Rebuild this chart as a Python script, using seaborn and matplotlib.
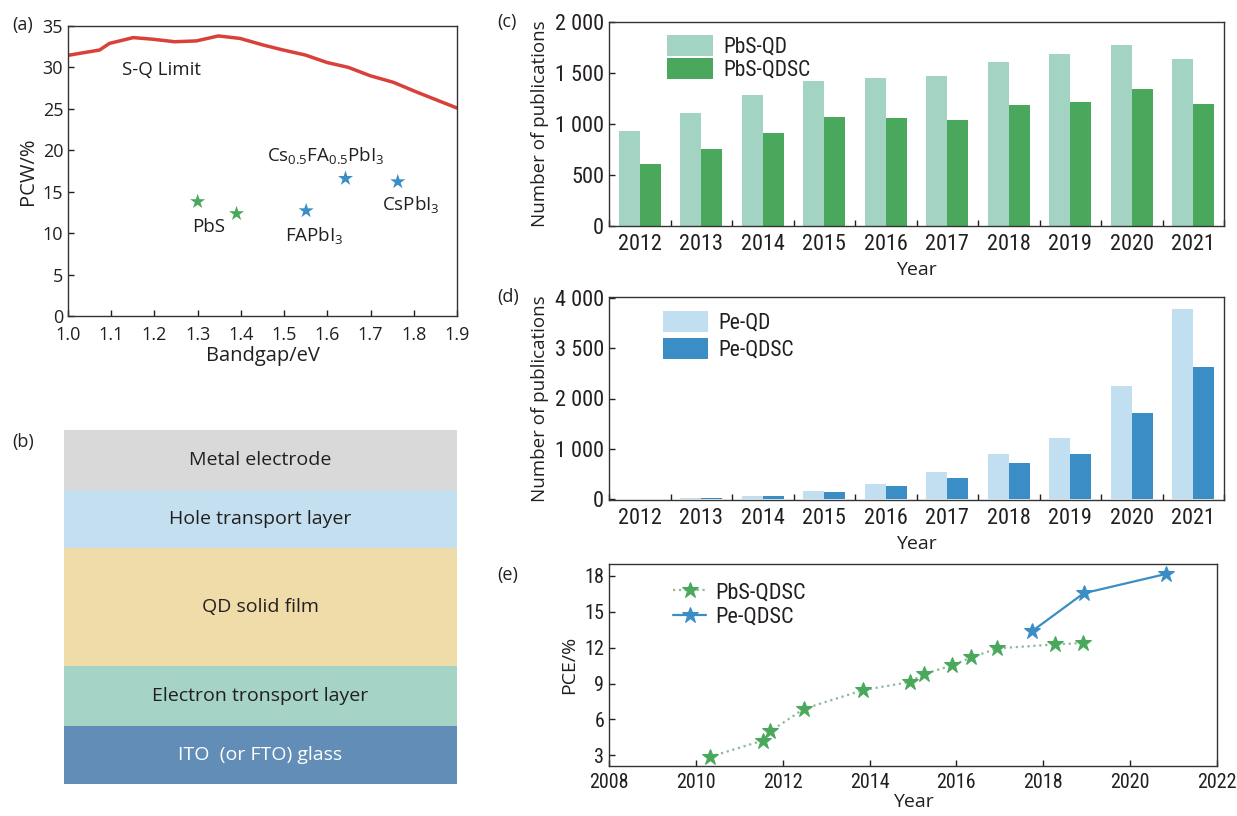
import numpy as np
import pandas as pd
import matplotlib
matplotlib.use('Agg')
import matplotlib.pyplot as plt
import seaborn as sns
from matplotlib import font_manager

# (a) S-Q limit curve and champion cells
sq_gap = [1.00, 1.073, 1.096, 1.151, 1.197, 1.247, 1.297, 1.348, 1.398, 1.452,
          1.498, 1.549, 1.599, 1.649, 1.699, 1.753, 1.808, 1.90]
sq_pce = [31.46, 32.1, 32.9, 33.6, 33.4, 33.1, 33.2, 33.8, 33.5, 32.7,
          32.1, 31.5, 30.6, 30.0, 29.0, 28.2, 27.0, 25.1]
cell_gap = [1.30, 1.39, 1.551, 1.642, 1.763]
cell_pce = [13.8, 12.35, 12.7, 16.6, 16.2]
cell_kind = ['PbS', 'PbS', 'Pe', 'Pe', 'Pe']

# (b) device stack, top to bottom
layer_names = ['Metal electrode', 'Hole transport layer', 'QD solid film',
               'Electron tronsport layer', 'ITO  (or FTO) glass']
layer_thick = [60, 58, 118, 60, 58]
layer_colors = ['#d9d9d9', '#c3dff0', '#f0dca8', '#a5d3c5', '#618db6']

# (c), (d) publications per year
years = ['2012', '2013', '2014', '2015', '2016', '2017', '2018', '2019', '2020', '2021']
pbs_qd = [931, 1105, 1289, 1420, 1449, 1466, 1603, 1689, 1774, 1636]
pbs_qdsc = [607, 757, 908, 1072, 1059, 1036, 1184, 1213, 1348, 1200]
pe_qd = [0, 15, 60, 160, 290, 547, 893, 1220, 2247, 3773]
pe_qdsc = [0, 20, 60, 140, 250, 420, 707, 887, 1720, 2633]
c_ticks = [0, 500, 1000, 1500, 2000]
c_ticklabels = ['0', '500', '1 000', '1 500', '2 000']
d_ticks = [0, 1000, 2000, 3000, 4000]
d_ticklabels = ['0', '1 000', '2 000', '3 500', '4 000']

# (e) record efficiencies
pbs_year = [2010.32, 2011.54, 2011.71, 2012.49, 2013.85, 2014.92, 2015.25,
            2015.90, 2016.34, 2016.94, 2018.26, 2018.92]
pbs_eff = [2.86, 4.23, 5.0, 6.88, 8.45, 9.12, 9.79, 10.51, 11.18, 11.94, 12.27, 12.39]
pe_year = [2017.75, 2018.93, 2020.83]
pe_eff = [13.4, 16.55, 18.17]

GREEN = '#4aa85c'
BLUE = '#3b8dc5'
TXT = '#231f20'

sns.set_theme(style='ticks')
plt.rcParams['font.family'] = ['Open Sans', 'DejaVu Sans']
plt.rcParams['mathtext.fontset'] = 'custom'
plt.rcParams['mathtext.rm'] = 'Open Sans'
plt.rcParams['text.color'] = TXT
plt.rcParams['axes.labelcolor'] = TXT
plt.rcParams['xtick.color'] = TXT
plt.rcParams['ytick.color'] = TXT
plt.rcParams['axes.edgecolor'] = '#333333'


# look for a condensed face for the bar/line panels (Myriad Condensed look)
def find_narrow():
    prefs = ['Noto Sans', 'Open Sans', 'Roboto', 'Liberation Sans Narrow', 'DejaVu Sans']
    found = []
    for f in font_manager.fontManager.ttflist:
        narrow = (f.stretch in ('condensed', 'semi-condensed')
                  or 'Narrow' in f.name or 'Condensed' in f.name
                  or 'Condensed' in f.fname or 'Narrow' in f.fname)
        if not narrow or f.style != 'normal':
            continue
        if f.weight not in (400, 'normal', 'regular', 'book'):
            continue
        if 'Extra' in f.fname or 'Ultra' in f.fname:
            continue
        for i, p in enumerate(prefs):
            if f.name.startswith(p):
                found.append((i, 'Semi' in f.fname, f.fname))
    if found:
        found.sort()
        return found[0][2]
    return None


NARROW_FILE = find_narrow()


def nprop(size):
    if NARROW_FILE:
        return font_manager.FontProperties(fname=NARROW_FILE, size=size)
    return font_manager.FontProperties(family='Open Sans', size=size * 0.85)


W, H = 1237, 816
fig = plt.figure(figsize=(W / 100, H / 100), dpi=100)


def box(l, t, r, b):
    return fig.add_axes([l / W, 1 - b / H, (r - l) / W, (b - t) / H])


def style(ax):
    for s in ax.spines.values():
        s.set_visible(True)
        s.set_linewidth(1.0)
    ax.tick_params(direction='in', length=4, width=1)


# ---------- (a)
ax_a = box(68, 26, 457, 316)
sns.lineplot(x=sq_gap, y=sq_pce, color='#d9403a', lw=2.5, ax=ax_a)
sns.scatterplot(x=cell_gap, y=cell_pce, hue=cell_kind, palette={'PbS': GREEN, 'Pe': BLUE},
                marker='*', s=130, edgecolor='none', legend=False, ax=ax_a)
ax_a.set_xlim(1.0, 1.9)
ax_a.set_ylim(0, 35)
ax_a.set_xticks(np.arange(1.0, 1.91, 0.1))
ax_a.set_yticks(range(0, 36, 5))
ax_a.set_xlabel('Bandgap/eV', fontsize=14.5, labelpad=2)
ax_a.set_ylabel('PCW/%', fontsize=14.5, labelpad=3)
style(ax_a)
ax_a.tick_params(labelsize=13)
ax_a.tick_params(axis='x', pad=7)
ax_a.text(1.124, 29.7, 'S-Q Limit', fontsize=13.5, va='center')
ax_a.text(1.325, 10.8, 'PbS', fontsize=13.5, va='center', ha='center')
ax_a.text(1.502, 9.6, r'FAPbI$_{3}$', fontsize=13.5, va='center')
ax_a.text(1.46, 19.3, r'Cs$_{0.5}$FA$_{0.5}$PbI$_{3}$', fontsize=13.5, va='center')
ax_a.text(1.726, 13.4, r'CsPbI$_{3}$', fontsize=13.5, va='center')

# ---------- (b)
ax_b = box(64, 430, 457, 784)
bottoms = np.cumsum([0] + layer_thick[:-1])
ax_b.bar(x=[0] * len(layer_thick), height=layer_thick, bottom=bottoms, width=1,
         color=layer_colors, linewidth=0)
for i, (name, b, h) in enumerate(zip(layer_names, bottoms, layer_thick)):
    ax_b.text(0, b + h / 2, name, ha='center', va='center', fontsize=14,
              color='white' if i == len(layer_names) - 1 else TXT)
ax_b.set_xlim(-0.5, 0.5)
ax_b.set_ylim(sum(layer_thick), 0)
ax_b.axis('off')


def narrow_ticks(ax, size):
    for lab in ax.get_xticklabels() + ax.get_yticklabels():
        lab.set_fontproperties(nprop(size))


# ---------- (c), (d)
def bars(ax, a, b, names, colors, ticks, ticklabels, ylim, leg_anchor, spacing):
    df = pd.DataFrame({'Year': years * 2, 'count': a + b,
                       'kind': [names[0]] * len(years) + [names[1]] * len(years)})
    sns.barplot(data=df, x='Year', y='count', hue='kind', palette=colors,
                width=0.68, gap=0, saturation=1, ax=ax, linewidth=0)
    ax.set_xlim(-0.5, len(years) - 0.5)
    ax.set_ylim(*ylim)
    ax.set_yticks(ticks)
    ax.set_yticklabels(ticklabels)
    ax.set_xticks(np.arange(-0.5, len(years), 1), minor=True)
    style(ax)
    ax.tick_params(axis='x', which='major', length=0, pad=6)
    ax.tick_params(axis='x', which='minor', direction='in', length=4, width=1)
    narrow_ticks(ax, 16)
    ax.set_xlabel('Year', fontsize=14, labelpad=4)
    ax.set_ylabel('Number of publications', fontsize=13.5, labelpad=4)
    ax.legend(loc='upper left', bbox_to_anchor=leg_anchor, frameon=False,
              handlelength=2.1, handleheight=1.1, labelspacing=spacing,
              handletextpad=0.5, borderaxespad=0, borderpad=0,
              prop=nprop(15.5))


ax_c = box(609, 22, 1224, 226)
bars(ax_c, pbs_qd, pbs_qdsc, ['PbS-QD', 'PbS-QDSC'], ['#a3d3c3', GREEN],
     c_ticks, c_ticklabels, (0, 2000), (0.095, 0.935), 0.0)

ax_d = box(609, 297, 1224, 500)
bars(ax_d, pe_qd, pe_qdsc, ['Pe-QD', 'Pe-QDSC'], ['#c2dff2', BLUE],
     d_ticks, d_ticklabels, (-20, 4020), (0.087, 0.93), 0.2)

# ---------- (e)
ax_e = box(609, 564, 1217, 766)
sns.lineplot(x=pbs_year, y=pbs_eff, color='#8db99a', linestyle=':', lw=1.6,
             marker='*', markersize=12, markerfacecolor=GREEN, markeredgecolor=GREEN,
             label='PbS-QDSC', ax=ax_e)
sns.lineplot(x=pe_year, y=pe_eff, color=BLUE, linestyle='-', lw=1.6,
             marker='*', markersize=12, markerfacecolor=BLUE, markeredgecolor=BLUE,
             label='Pe-QDSC', ax=ax_e)
ax_e.set_xlim(2008, 2022)
ax_e.set_ylim(2.1, 19)
ax_e.set_xticks(range(2008, 2023, 2))
ax_e.set_yticks(range(3, 19, 3))
style(ax_e)
ax_e.tick_params(axis='x', pad=5)
narrow_ticks(ax_e, 14.5)
ax_e.set_xlabel('Year', fontsize=14, labelpad=1)
ax_e.set_ylabel('PCE/%', fontsize=14, labelpad=4)
ax_e.legend(loc='upper left', bbox_to_anchor=(0.105, 0.91), frameon=False,
            handlelength=1.5, labelspacing=0.15, handletextpad=0.4,
            borderaxespad=0, borderpad=0, prop=nprop(16))

# panel letters
for lab, x, y in [('(a)', 12, 25), ('(b)', 12, 442), ('(c)', 497, 22),
                  ('(d)', 497, 297), ('(e)', 497, 575)]:
    fig.text(x / W, 1 - y / H, lab, fontsize=13, va='center', ha='left')

fig.savefig('out.png', dpi=100)
